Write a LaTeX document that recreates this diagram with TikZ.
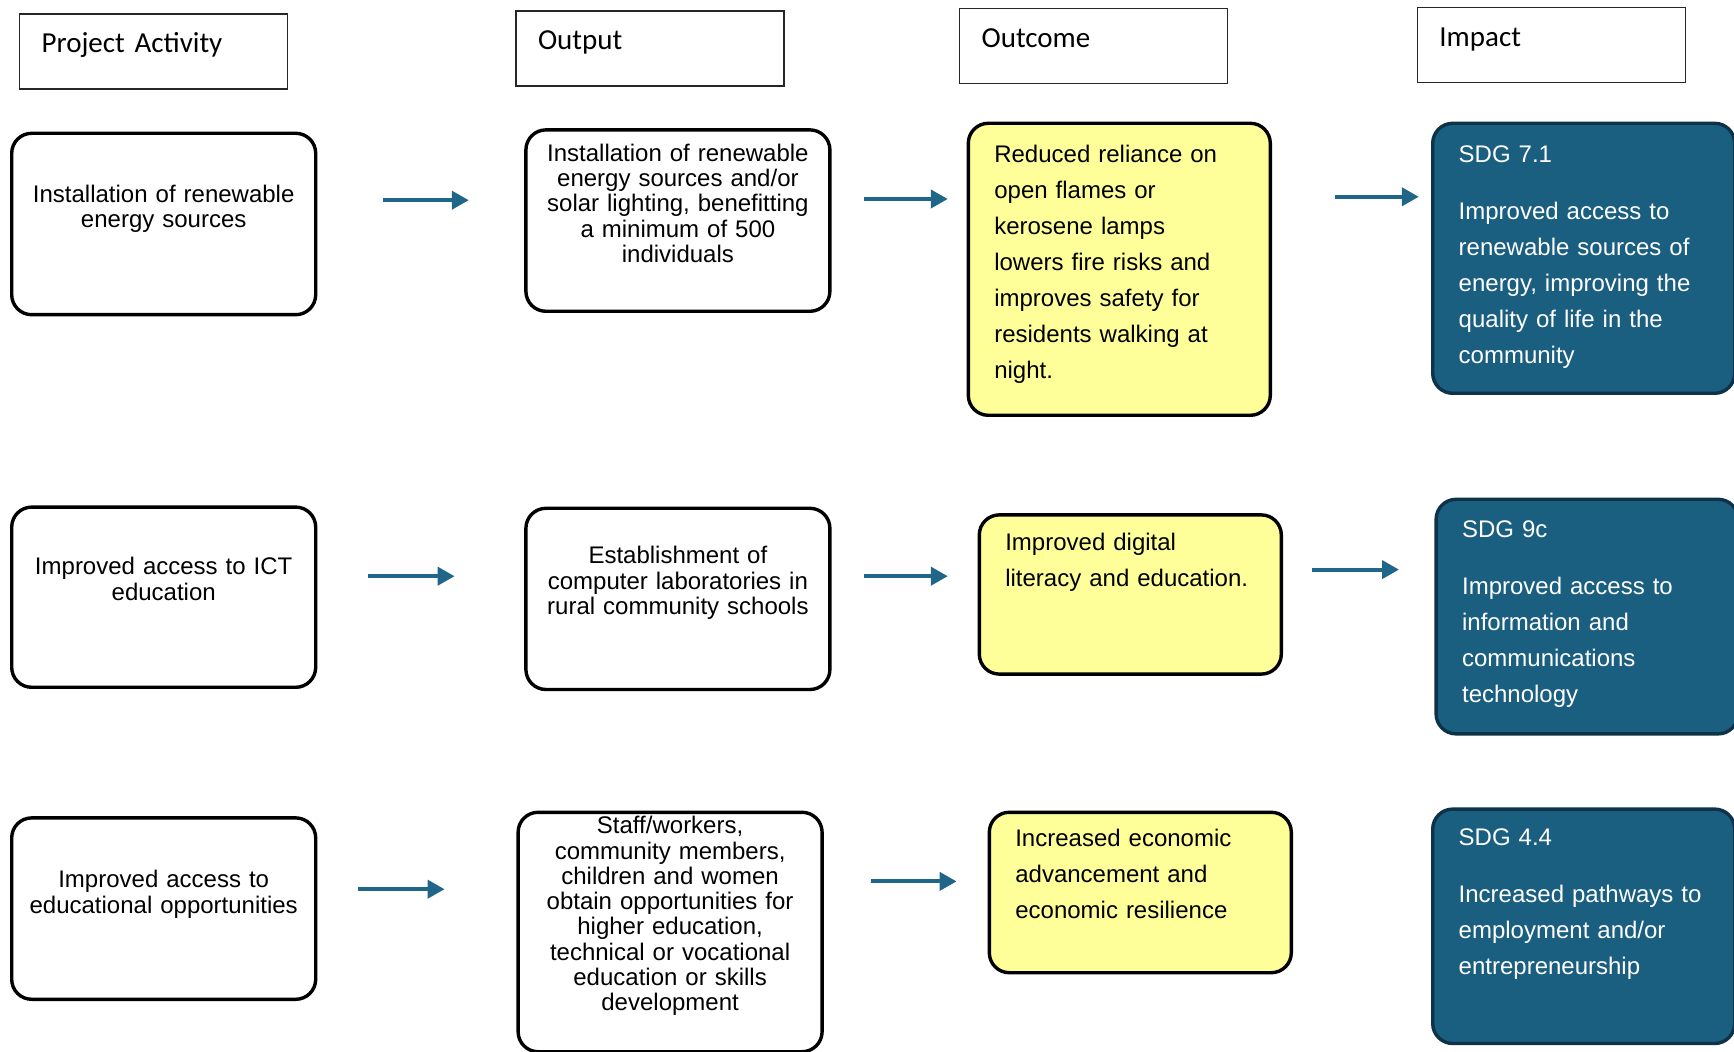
\documentclass[tikz,border=0pt]{standalone}
\usepackage{fontspec}
\setmainfont{Liberation Sans}
\newfontfamily\headfont{Carlito}
\usetikzlibrary{arrows.meta}
\definecolor{sdgblue}{HTML}{1A5E80}
\definecolor{sdgedge}{HTML}{0E3248}
\definecolor{flowblue}{HTML}{1F6688}
\definecolor{outyellow}{HTML}{FFFF99}

\begin{document}
\begin{tikzpicture}[x=1pt, y=-1pt, >={Triangle[length=8.5pt,width=9pt]}, font=\fontsize{12}{12.65}\selectfont]

    \tikzstyle{head}=[draw=black!85, line width=0.8pt, anchor=north west, text width=112pt, inner xsep=11pt, inner ysep=0pt, text height=19.4pt, text depth=18.1pt, align=left, font=\headfont\fontsize{14.5}{16}\selectfont]
    \tikzstyle{plain}=[draw=black, line width=1.7pt, rounded corners=10pt, anchor=north west, text width=144pt, inner xsep=4pt, inner ysep=0pt, align=center]
    \tikzstyle{result}=[plain, fill=outyellow, align=left, inner xsep=13pt, text width=125pt, font=\fontsize{12}{18}\selectfont]
    \tikzstyle{goal}=[result, fill=sdgblue, draw=sdgedge, text=white]
    \tikzstyle{flow}=[->, draw=flowblue, line width=2pt]

    \useasboundingbox (0,0) rectangle (867,526);

    \node[head] (h1) at (9.4,6.6) {Project Activity};
    \node[head] (h2) at (257.6,5) {Output};
    \node[head] (h3) at (479.4,3.9) {Outcome};
    \node[head] (h4) at (708.3,3.3) {Impact};

    \node[plain, text height=34.5pt, text depth=56.2pt] (a1) at (5,65.8) {Installation of renewable\\energy sources};
    \node[plain, text height=15.7pt, text depth=75pt] (o1) at (262.1,64.1) {Installation of renewable\\energy sources and/or\\solar lighting, benefitting\\a minimum of 500\\individuals};
    \node[result, text height=19.6pt, text depth=126.4pt] (c1) at (483.3,60.8) {Reduced reliance on\\open flames or\\kerosene lamps\\lowers fire risks and\\improves safety for\\residents walking at\\night.};
    \node[goal, text height=19.6pt, text depth=115.4pt] (i1) at (715.5,60.8) {SDG 7.1\\[10.5pt]Improved access to\\renewable sources of\\energy, improving the\\quality of life in the\\community};

    \node[plain, text height=33.9pt, text depth=56.2pt] (a2) at (5,252.7) {Improved access to ICT\\education};
    \node[plain, text height=27.8pt, text depth=62.8pt] (o2) at (262.1,253.3) {Establishment of\\computer laboratories in\\rural community schools};
    \node[result, text height=17.8pt, text depth=61.8pt] (c2) at (488.8,256.6) {Improved digital\\literacy and education.};
    \node[goal, text height=19pt, text depth=98.3pt] (i2) at (717.2,248.8) {SDG 9c\\[10.5pt]Improved access to\\information and\\communications\\technology};

    \node[plain, text height=35pt, text depth=55.7pt] (a3) at (5,408.1) {Improved access to\\educational opportunities};
    \node[plain, text height=10.7pt, text depth=109pt] (o3) at (258.2,405.3) {Staff/workers,\\community members,\\children and women\\obtain opportunities for\\higher education,\\technical or vocational\\education or skills\\development};
    \node[result, text height=17.3pt, text depth=62.9pt] (c3) at (493.8,405.3) {Increased economic\\advancement and\\economic resilience};
    \node[goal, text height=18.4pt, text depth=98.8pt] (i3) at (715.5,403.7) {SDG 4.4\\[10.5pt]Increased pathways to\\employment and/or\\entrepreneurship};

    \draw[flow, shorten <=32.7pt, shorten >=27.7pt] (a1.east |- 0,100.1) -- (o1.west |- 0,100.1);
    \draw[flow, shorten <=16pt, shorten >=9.4pt] (o1.east |- 0,99.5) -- (c1.west |- 0,99.5);
    \draw[flow, shorten <=31.6pt, shorten >=6.1pt] (c1.east |- 0,98.4) -- (i1.west |- 0,98.4);
    \draw[flow, shorten <=25.5pt, shorten >=34.8pt] (a2.east |- 0,288.1) -- (o2.west |- 0,288.1);
    \draw[flow, shorten <=16pt, shorten >=14.9pt] (o2.east |- 0,288.1) -- (c2.west |- 0,288.1);
    \draw[flow, shorten <=14.4pt, shorten >=17.7pt] (c2.east |- 0,284.8) -- (i2.west |- 0,284.8);
    \draw[flow, shorten <=20.5pt, shorten >=35.9pt] (a3.east |- 0,444.6) -- (o3.west |- 0,444.6);
    \draw[flow, shorten <=23.7pt, shorten >=15.5pt] (o3.east |- 0,440.7) -- (c3.west |- 0,440.7);
\end{tikzpicture}
\end{document}
